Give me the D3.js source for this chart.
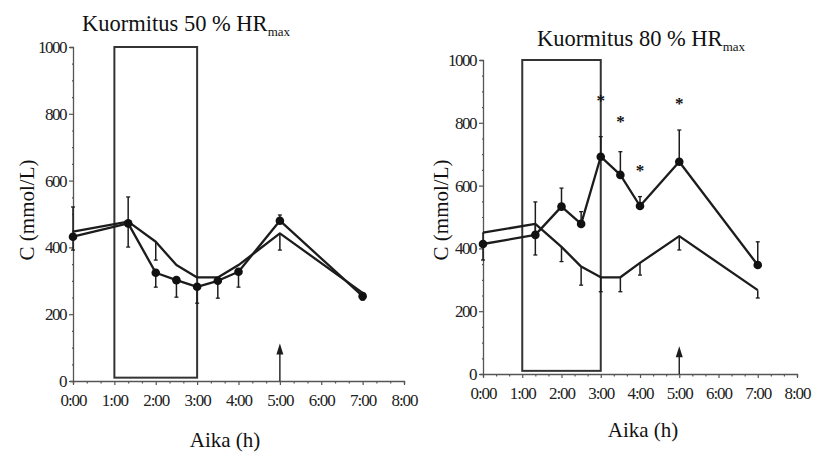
<!DOCTYPE html>
<html>
<head>
<meta charset="utf-8">
<script src="https://cdn.jsdelivr.net/npm/d3@7"></script>
<style>
  html, body { margin: 0; padding: 0; background: #fff; }
  svg { display: block; }
</style>
</head>
<body>
<svg id="chart" width="813" height="453"></svg>
<script>
// Sampling times in hours (0:00, 1:20, 2:00, 2:30, 3:00, 3:30, 4:00, 5:00, 7:00)
const hours = [0, 4 / 3, 2, 2.5, 3, 3.5, 4, 5, 7];
const xTickLabels = ["0:00", "1:00", "2:00", "3:00", "4:00", "5:00", "6:00", "7:00", "8:00"];
const yTickLabels = [0, 200, 400, 600, 800, 1000];

// 50 % HRmax session
const load50 = [432, 472, 324, 302, 282, 300, 327, 480, 254];
const load50Up = [89, 79, 0, 0, 0, 0, 0, 17, 0];
const load50Down = [40, 71, 43, 51, 49, 52, 46, 0, 12];
const control50 = [447, 477, 417, 347, 310, 310, 347, 442, 264];
const control50Down = [0, 0, 55, 0, 0, 0, 0, 50, 0];

// 80 % HRmax session
const load80 = [414, 443, 533, 478, 692, 634, 535, 676, 347];
const load80Up = [0, 105, 59, 39, 64, 74, 30, 101, 74];
const control80 = [450, 478, 405, 342, 308, 308, 354, 439, 267];
const control80Down = [87, 99, 47, 59, 46, 46, 39, 44, 25];

// Significance marks (80 %)
const starHours = [3, 3.5, 4, 5];
const starValues = [883, 815, 659, 873];

// Exercise period and meal arrow
const exerciseStart = 1, exerciseEnd = 3;
const boxTop = 1000, boxBottom = 10;
const arrowHour = 5;

const svg = d3.select("#chart");
const ink = "#1c1c1c";
const serif = '"Liberation Serif"';

function drawPanel(cfg) {
  const g = svg.append("g");
  const x = d3.scaleLinear().domain([0, 8]).range([cfg.x0, cfg.x1]);
  const y = d3.scaleLinear().domain([0, 1000]).range([cfg.y0, cfg.y1]);
  const isHour = d => Math.abs(d - Math.round(d)) < 1e-6;

  // x axis: minor ticks every 20 minutes, labels on the hour
  const xTicks = d3.range(0, 24 + 1).map(i => i / 3);
  const xAxis = d3.axisBottom(x)
    .tickValues(xTicks)
    .tickSizeOuter(0)
    .tickSize(3)
    .tickPadding(10)
    .tickFormat(d => isHour(d) ? xTickLabels[Math.round(d)] : "");
  const gx = g.append("g").attr("transform", `translate(0,${cfg.y0})`).call(xAxis)
    .attr("font-family", null).attr("font-size", null);
  gx.select(".domain").attr("stroke", "#555").attr("stroke-width", 1.3);
  gx.selectAll(".tick line").attr("stroke", "#555").attr("stroke-width", 1.2)
    .attr("y2", d => isHour(d) ? 4 : 2.5);
  gx.selectAll(".tick text")
    .style("font-family", serif)
    .attr("font-size", 17).attr("letter-spacing", -1).attr("fill", "#222");

  // y axis: minor ticks every 50
  const yAxis = d3.axisLeft(y)
    .tickValues(d3.range(0, 1001, 50))
    .tickSizeOuter(0)
    .tickSize(3)
    .tickPadding(4)
    .tickFormat(d => yTickLabels.includes(d) ? d : "");
  const gy = g.append("g").attr("transform", `translate(${cfg.x0},0)`).call(yAxis)
    .attr("font-family", null).attr("font-size", null);
  gy.select(".domain").attr("stroke", "#555").attr("stroke-width", 1.3);
  gy.selectAll(".tick line").attr("stroke", "#555").attr("stroke-width", 1.2)
    .attr("x1", d => yTickLabels.includes(d) ? 0 : 1)
    .attr("x2", d => yTickLabels.includes(d) ? -4 : -1);
  gy.selectAll(".tick text")
    .style("font-family", serif)
    .attr("font-size", 17).attr("letter-spacing", -1.5).attr("fill", "#222");

  // exercise period box
  g.append("rect")
    .attr("x", x(exerciseStart)).attr("y", y(boxTop))
    .attr("width", x(exerciseEnd) - x(exerciseStart))
    .attr("height", y(boxBottom) - y(boxTop))
    .attr("fill", "none").attr("stroke", "#333").attr("stroke-width", 2);

  // arrow at 5:00
  const ax = x(arrowHour);
  g.append("line").attr("x1", ax).attr("x2", ax)
    .attr("y1", y(0)).attr("y2", y(cfg.arrowTo) + 6)
    .attr("stroke", ink).attr("stroke-width", 1.4);
  g.append("path")
    .attr("d", `M${ax},${y(cfg.arrowTo)} L${ax - 3.5},${y(cfg.arrowTo) + 11} L${ax + 3.5},${y(cfg.arrowTo) + 11} Z`)
    .attr("fill", ink);

  const line = d3.line().x((d, i) => x(hours[i])).y(d => y(d));

  // error bars
  function bars(values, ups, downs) {
    values.forEach((v, i) => {
      const cx = x(hours[i]);
      [[ups, 1], [downs, -1]].forEach(([arr, dir]) => {
        if (!arr || !arr[i]) return;
        const end = v + dir * arr[i];
        g.append("line").attr("x1", cx).attr("x2", cx)
          .attr("y1", y(v)).attr("y2", y(end))
          .attr("stroke", ink).attr("stroke-width", 1.5);
        g.append("line").attr("x1", cx - 2).attr("x2", cx + 2)
          .attr("y1", y(end)).attr("y2", y(end))
          .attr("stroke", ink).attr("stroke-width", 1.3);
      });
    });
  }
  bars(cfg.control, null, cfg.controlDown);
  bars(cfg.load, cfg.loadUp, cfg.loadDown);

  // series lines
  g.append("path").datum(cfg.control).attr("d", line)
    .attr("fill", "none").attr("stroke", ink).attr("stroke-width", 2.3).attr("stroke-linejoin", "round");
  g.append("path").datum(cfg.load).attr("d", line)
    .attr("fill", "none").attr("stroke", ink).attr("stroke-width", 2.3).attr("stroke-linejoin", "round");

  // markers on the exercise series
  g.selectAll(null).data(cfg.load).enter().append("circle")
    .attr("cx", (d, i) => x(hours[i])).attr("cy", d => y(d))
    .attr("r", 4.3).attr("fill", "#111");

  // significance marks
  if (cfg.stars) {
    g.selectAll(null).data(cfg.stars.values).enter().append("text")
      .attr("x", (d, i) => x(cfg.stars.hours[i])).attr("y", d => y(d) + 9)
      .attr("text-anchor", "middle")
      .style("font-family", serif).attr("font-size", 17).attr("font-weight", "bold")
      .attr("fill", "#111")
      .text("*");
  }

  // title with subscript
  const t = g.append("text").attr("x", cfg.titleX).attr("y", cfg.titleY)
    .style("font-family", serif).attr("font-size", 22.5)
    .attr("fill", "#111");
  t.append("tspan").text(cfg.title);
  t.append("tspan").attr("font-size", 13).attr("dy", 5).text("max");

  // axis titles
  g.append("text")
    .attr("transform", `translate(${cfg.ylabX},${cfg.ylabY}) rotate(-90)`)
    .attr("text-anchor", "middle")
    .style("font-family", serif).attr("font-size", 21).attr("fill", "#111")
    .text("C (mmol/L)");
  g.append("text")
    .attr("x", cfg.xlabX).attr("y", cfg.xlabY)
    .attr("text-anchor", "middle")
    .style("font-family", serif).attr("font-size", 21).attr("fill", "#111")
    .text("Aika (h)");
}

drawPanel({
  x0: 73, x1: 404, y0: 381, y1: 47,
  load: load50, loadUp: load50Up, loadDown: load50Down,
  control: control50, controlDown: control50Down,
  arrowTo: 112,
  title: "Kuormitus 50 % HR", titleX: 82, titleY: 31,
  ylabX: 34, ylabY: 210, xlabX: 225, xlabY: 447
});

drawPanel({
  x0: 483, x1: 797, y0: 374, y1: 60,
  load: load80, loadUp: load80Up, loadDown: null,
  control: control80, controlDown: control80Down,
  stars: { hours: starHours, values: starValues },
  arrowTo: 88,
  title: "Kuormitus 80 % HR", titleX: 537, titleY: 46,
  ylabX: 448, ylabY: 210, xlabX: 643, xlabY: 437
});
</script>
</body>
</html>
